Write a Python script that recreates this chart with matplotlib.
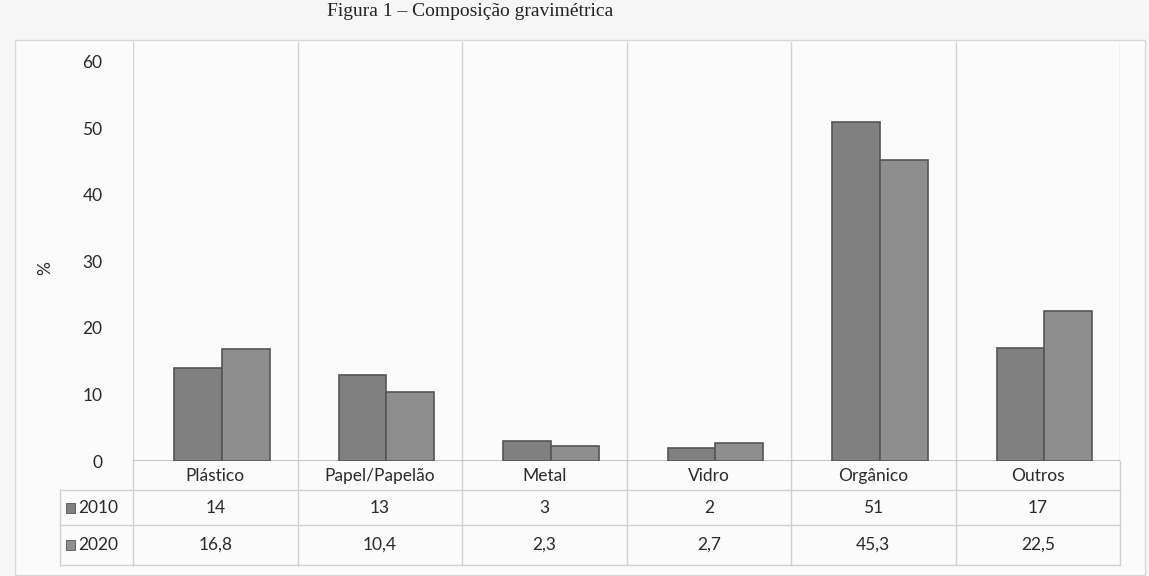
import matplotlib.pyplot as plt
import matplotlib.transforms as mtransforms
from matplotlib.patches import Rectangle
import numpy as np

# Données (composition gravimétrique, %)
categories = ["Plástico", "Papel/Papelão", "Metal", "Vidro", "Orgânico", "Outros"]
series_names = ["2010", "2020"]
values_2010 = [14, 13, 3, 2, 51, 17]
values_2020 = [16.8, 10.4, 2.3, 2.7, 45.3, 22.5]
labels_2010 = ["14", "13", "3", "2", "51", "17"]
labels_2020 = ["16,8", "10,4", "2,3", "2,7", "45,3", "22,5"]
yticks = [0, 10, 20, 30, 40, 50, 60]

W, H = 1149, 576
plt.rcParams['font.family'] = ['Lato', 'DejaVu Sans']

fig = plt.figure(figsize=(W / 100, H / 100), dpi=100)
fig.patch.set_facecolor('#f6f6f6')


def fx(px):
    return px / W


def fy(py):
    return 1 - py / H


# cadre du graphique
fig.patches.append(Rectangle((fx(15), fy(575)), fx(1130), fy(40) - fy(575),
                             transform=fig.transFigure, facecolor='#fbfbfb',
                             edgecolor='#d8d8d8', lw=1, zorder=-5))

ax = fig.add_axes([fx(133), fy(461), fx(1120) - fx(133), fy(42) - fy(461)])
ax.set_facecolor('none')
ax.set_zorder(2)

x = np.arange(len(categories))
bw = 0.29
shift = 0.04
ax.bar(x - bw / 2 + shift, values_2010, bw, color='#808080', edgecolor='#555555', lw=1.2, zorder=3)
ax.bar(x + bw / 2 + shift, values_2020, bw, color='#8e8e8e', edgecolor='#555555', lw=1.2, zorder=3)

ax.set_xlim(-0.5, len(categories) - 0.5)
ax.set_ylim(0, 63)
ax.set_yticks(yticks)
ax.set_yticklabels([str(t) for t in yticks], fontsize=12.5, color='#2a2a2a')
ax.tick_params(axis='y', length=0, pad=22)
ax.set_xticks([])
for s in ax.spines.values():
    s.set_visible(False)
ax.axhline(0, color='#bdbdbd', lw=1.2, zorder=2)

# lignes verticales entre catégories
for b in np.arange(-0.5, len(categories), 1.0):
    ax.axvline(b, color='#d2d2d2', lw=1, zorder=1)

fig.text(fx(45), fy(268), "%", rotation=90, ha='center', va='center',
         fontsize=12.5, color='#2a2a2a')

fig.text(fx(470), fy(11), "Figura 1 – Composição gravimétrica",
         ha='center', va='center', fontsize=14, color='#222222',
         family='Liberation Serif')

# tableau de données sous le graphique
tr = mtransforms.blended_transform_factory(ax.transData, fig.transFigure)
row_lines = [490, 525, 565]
for r in row_lines:
    fig.add_artist(plt.Line2D([fx(60), fx(1120)], [fy(r), fy(r)],
                              transform=fig.transFigure, color='#cfcfcf', lw=1))
fig.add_artist(plt.Line2D([fx(60), fx(60)], [fy(490), fy(565)],
                          transform=fig.transFigure, color='#cfcfcf', lw=1))
for b in np.arange(-0.5, len(categories), 1.0):
    ax.plot([b, b], [fy(461), fy(565)], transform=tr, color='#cfcfcf',
            lw=1, clip_on=False)

for i, cat in enumerate(categories):
    ax.text(i, fy(476), cat, transform=tr, ha='center', va='center',
            fontsize=12.5, color='#2a2a2a')
    ax.text(i, fy(508), labels_2010[i], transform=tr, ha='center', va='center',
            fontsize=12.5, color='#2a2a2a')
    ax.text(i, fy(545), labels_2020[i], transform=tr, ha='center', va='center',
            fontsize=12.5, color='#2a2a2a')

for name, py, col in [(series_names[0], 508, '#808080'), (series_names[1], 545, '#8e8e8e')]:
    fig.patches.append(Rectangle((fx(66), fy(py + 5)), fx(9), fy(0) - fy(10),
                                 transform=fig.transFigure, facecolor=col,
                                 edgecolor='#555555', lw=0.6))
    fig.text(fx(78), fy(py), name, ha='left', va='center', fontsize=12.5,
             color='#2a2a2a')

fig.savefig("out.png", dpi=100, facecolor=fig.get_facecolor())
